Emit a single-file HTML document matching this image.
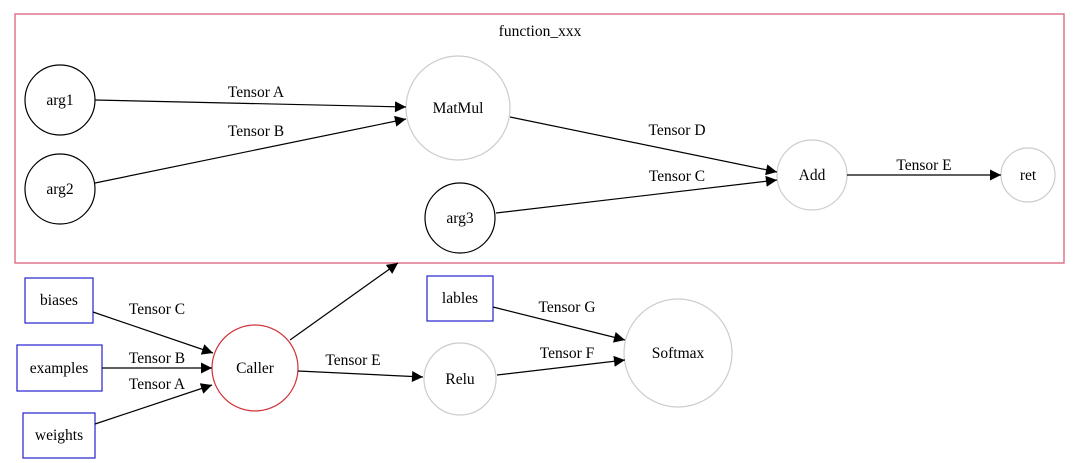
<!DOCTYPE html>
<html><head><meta charset="utf-8"><style>
html,body{margin:0;padding:0;background:#fff;width:1080px;height:463px;overflow:hidden}
text{font-family:"Liberation Serif",serif;font-size:15.5px;fill:#000}
</style></head><body>
<svg width="1080" height="463" viewBox="0 0 1080 463">
<defs>
<marker id="b" viewBox="0 0 10 10" refX="10" refY="5" markerWidth="15" markerHeight="11" markerUnits="userSpaceOnUse" orient="auto"><path d="M0,0L10,5L0,10z" fill="#000"/></marker></defs>
<rect x="15" y="14" width="1049" height="249" fill="none" stroke="#d9607a" stroke-width="1.3"/>
<text x="540" y="36" text-anchor="middle">function_xxx</text>
<g fill="none" stroke-width="1.2">
<circle cx="60" cy="100" r="35" stroke="#000"/>
<circle cx="60" cy="189" r="35" stroke="#000"/>
<circle cx="458" cy="108" r="52" stroke="#ccc"/>
<circle cx="460" cy="218" r="35" stroke="#000"/>
<circle cx="812" cy="175" r="35" stroke="#ccc"/>
<circle cx="1028" cy="175" r="27" stroke="#ccc"/>
<circle cx="255" cy="368" r="43" stroke="#d0303a"/>
<circle cx="460" cy="379" r="36" stroke="#ccc"/>
<circle cx="678" cy="353" r="54" stroke="#ccc"/>
<rect x="25" y="278" width="68" height="45" stroke="#2222cc"/>
<rect x="17" y="345" width="85" height="46" stroke="#2222cc"/>
<rect x="23" y="413" width="72" height="45" stroke="#2222cc"/>
<rect x="427" y="276" width="66" height="45" stroke="#2222cc"/>
</g>
<g stroke="#000" stroke-width="1.2" fill="none" marker-end="url(#b)">
<line x1="95" y1="100" x2="406" y2="107"/>
<line x1="95" y1="183" x2="406" y2="119"/>
<line x1="510" y1="117" x2="777" y2="172"/>
<line x1="496" y1="213" x2="777" y2="180"/>
<line x1="847" y1="175" x2="1001" y2="175"/>
<line x1="93" y1="312" x2="213" y2="353"/>
<line x1="102" y1="368" x2="212" y2="368"/>
<line x1="95" y1="424" x2="212" y2="385"/>
<line x1="290" y1="340" x2="398" y2="263"/>
<line x1="298" y1="371" x2="423" y2="377"/>
<line x1="493" y1="307" x2="625" y2="340"/>
<line x1="497" y1="375" x2="625" y2="360"/>
</g>
<g text-anchor="middle">
<text x="60" y="105">arg1</text><text x="60" y="194">arg2</text>
<text x="458" y="113">MatMul</text><text x="460" y="223">arg3</text>
<text x="812" y="180">Add</text><text x="1028" y="180">ret</text>
<text x="255" y="373">Caller</text><text x="460" y="384">Relu</text>
<text x="678" y="358">Softmax</text>
<text x="59" y="305">biases</text><text x="59" y="373">examples</text>
<text x="59" y="440">weights</text><text x="460" y="303">lables</text>
<text x="256" y="97">Tensor A</text><text x="256" y="136">Tensor B</text>
<text x="677" y="135">Tensor D</text><text x="677" y="181">Tensor C</text>
<text x="924" y="170">Tensor E</text>
<text x="157" y="314">Tensor C</text><text x="157" y="363">Tensor B</text>
<text x="157" y="389">Tensor A</text><text x="353" y="365">Tensor E</text>
<text x="567" y="312">Tensor G</text><text x="567" y="358">Tensor F</text>
</g>
</svg>
</body></html>
